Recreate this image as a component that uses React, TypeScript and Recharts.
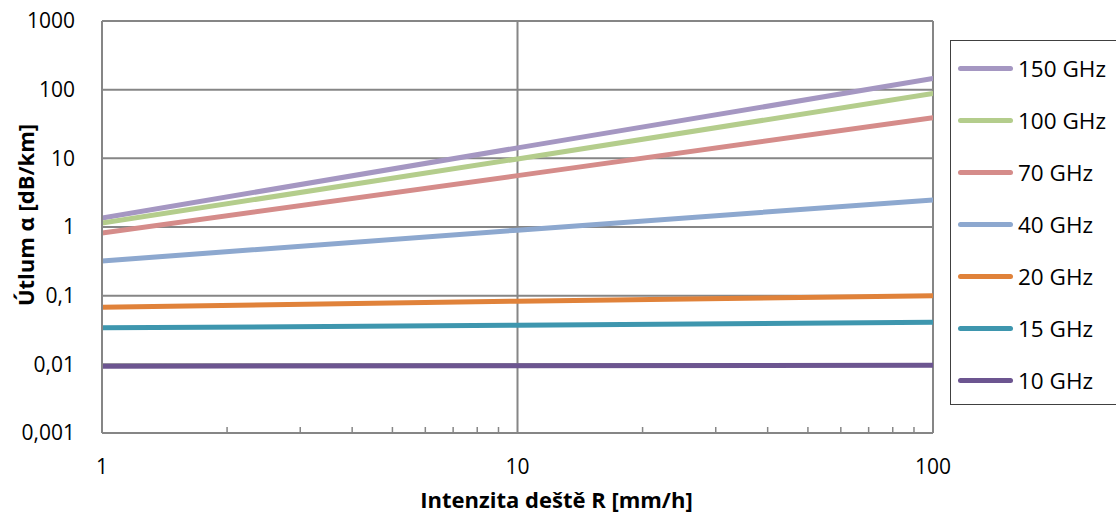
import { LineChart, Line, XAxis, YAxis, CartesianGrid, Label } from 'recharts'

// rain rate R [mm/h] and attenuation [dB/km] per frequency
const rainRate = [1, 10, 100]
const f150 = [1.35, 14.2, 145]
const f100 = [1.14, 9.8, 88]
const f70 = [0.82, 5.6, 39]
const f40 = [0.32, 0.9, 2.48]
const f20 = [0.068, 0.083, 0.1]
const f15 = [0.034, 0.037, 0.041]
const f10 = [0.0094, 0.0095, 0.0097]

const yTicks = [0.001, 0.01, 0.1, 1, 10, 100, 1000]
const xMajor = [1, 10, 100]
const xMinor = [2, 3, 4, 5, 6, 7, 8, 9, 20, 30, 40, 50, 60, 70, 80, 90]

const series = [
  { key: 'f150', name: '150 GHz', color: '#A597C2', values: f150 },
  { key: 'f100', name: '100 GHz', color: '#B4CD8C', values: f100 },
  { key: 'f70', name: '70 GHz', color: '#D58C8A', values: f70 },
  { key: 'f40', name: '40 GHz', color: '#8DA8CF', values: f40 },
  { key: 'f20', name: '20 GHz', color: '#E0823A', values: f20 },
  { key: 'f15', name: '15 GHz', color: '#3E96AE', values: f15 },
  { key: 'f10', name: '10 GHz', color: '#6C5590', values: f10 },
]

const data = rainRate.map((r, i) => {
  const row: Record<string, number> = { r }
  series.forEach(s => { row[s.key] = s.values[i] })
  return row
})

const FONT = '"Open Sans", "Noto Sans", sans-serif'
const GRID = '#868686'
const X_TICK_MARGIN = 26

const fmt = (v: number) => String(v).replace('.', ',')

function XTick(props: any) {
  const { x, y, payload } = props
  const axisY = y - X_TICK_MARGIN
  if (xMajor.includes(payload.value)) {
    return (
      <text x={x} y={y} dy="0.71em" textAnchor="middle" fontSize={21} fontFamily={FONT} fill="#000">
        {payload.value}
      </text>
    )
  }
  return <line x1={x} x2={x} y1={axisY} y2={axisY - 6} stroke={GRID} strokeWidth={1.5} />
}

export default function App() {
  return (
    <div style={{ position: 'absolute', left: 0, top: 0, width: 1116, height: 516, overflow: 'hidden', background: '#fff' }}>
      <LineChart width={1116} height={516} data={data} margin={{ top: 21, right: 183, bottom: 0, left: 0 }}>
        <CartesianGrid stroke={GRID} strokeWidth={2} verticalValues={xMajor} horizontalValues={yTicks} />
        <XAxis
          dataKey="r"
          type="number"
          scale="log"
          domain={[1, 100]}
          ticks={[...xMajor, ...xMinor]}
          interval={0}
          height={83}
          tickLine={false}
          tickSize={0}
          tickMargin={X_TICK_MARGIN}
          axisLine={{ stroke: GRID, strokeWidth: 2 }}
          tick={<XTick />}
          allowDataOverflow
        >
          <Label
            content={({ viewBox }: any) => (
              <text
                x={viewBox.x + viewBox.width / 2 + 39}
                y={viewBox.y + viewBox.height - 8}
                textAnchor="middle"
                fontSize={22}
                fontWeight="bold"
                fontFamily={FONT}
                fill="#000"
              >
                Intenzita deště R [mm/h]
              </text>
            )}
          />
        </XAxis>
        <YAxis
          type="number"
          scale="log"
          domain={[0.001, 1000]}
          ticks={yTicks}
          interval={0}
          width={102}
          tickLine={false}
          tickSize={0}
          tickMargin={27}
          tickFormatter={fmt}
          tick={{ fontSize: 21, fontFamily: FONT, fill: '#000' }}
          axisLine={{ stroke: GRID, strokeWidth: 2 }}
          allowDataOverflow
        >
          <Label
            content={({ viewBox }: any) => {
              const cx = 25
              const cy = viewBox.y + viewBox.height / 2 - 12
              return (
                <text
                  x={cx}
                  y={cy}
                  transform={`rotate(-90, ${cx}, ${cy})`}
                  textAnchor="middle"
                  dominantBaseline="central"
                  fontSize={22}
                  fontWeight="bold"
                  fontFamily={FONT}
                  fill="#000"
                >
                  Útlum α [dB/km]
                </text>
              )
            }}
          />
        </YAxis>
        {series.map(s => (
          <Line
            key={s.key}
            type="linear"
            dataKey={s.key}
            name={s.name}
            stroke={s.color}
            strokeWidth={5}
            strokeLinecap="round"
            dot={false}
            isAnimationActive={false}
          />
        ))}
      </LineChart>
      <div
        style={{
          position: 'absolute',
          left: 950,
          top: 40,
          width: 170,
          height: 365,
          border: '1px solid #404040',
          paddingTop: 1,
          boxSizing: 'border-box',
          fontFamily: FONT,
          fontSize: 22.5,
          color: '#000',
        }}
      >
        {series.map(s => (
          <div key={s.key} style={{ height: 52, display: 'flex', alignItems: 'center' }}>
            <div style={{ marginLeft: 7, width: 55, height: 5, borderRadius: 3, background: s.color }} />
            <span style={{ marginLeft: 5, whiteSpace: 'nowrap' }}>{s.name}</span>
          </div>
        ))}
      </div>
    </div>
  )
}
